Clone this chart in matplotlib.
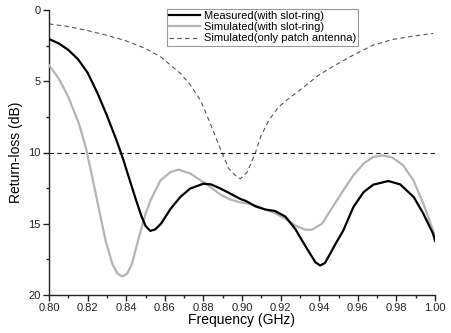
import matplotlib
matplotlib.use("Agg")
import matplotlib.pyplot as plt
from matplotlib.ticker import MultipleLocator, FormatStrFormatter

plt.rcParams['font.family'] = ['Liberation Sans', 'DejaVu Sans']

meas_f = [0.800, 0.805, 0.810, 0.815, 0.820, 0.825, 0.830, 0.835, 0.8385, 0.8415, 0.845, 0.848,
          0.850, 0.8525, 0.855, 0.858, 0.863, 0.868, 0.873, 0.880, 0.884, 0.889, 0.894, 0.899,
          0.902, 0.907, 0.912, 0.917, 0.9225, 0.9275, 0.933, 0.938, 0.9405, 0.943, 0.9457,
          0.9485, 0.9525, 0.9577, 0.963, 0.968, 0.9758, 0.982, 0.989, 0.994, 0.999, 1.000]
meas_rl = [2.04, 2.34, 2.80, 3.45, 4.40, 5.80, 7.40, 9.15, 10.5, 11.8, 13.3, 14.5,
           15.15, 15.5, 15.4, 15.0, 13.95, 13.13, 12.54, 12.19, 12.24, 12.54, 12.89, 13.25,
           13.4, 13.78, 14.0, 14.1, 14.5, 15.35, 16.6, 17.7, 17.93, 17.75, 17.1,
           16.4, 15.47, 13.83, 12.78, 12.26, 12.0, 12.24, 13.13, 14.3, 15.7, 16.2]

sim_f = [0.800, 0.805, 0.810, 0.8155, 0.819, 0.8224, 0.826, 0.8293, 0.8328, 0.8355, 0.838,
         0.8405, 0.843, 0.8466, 0.850, 0.8526, 0.8578, 0.863, 0.8672, 0.8733, 0.8785, 0.8836,
         0.8888, 0.894, 0.899, 0.902, 0.907, 0.912, 0.917, 0.9225, 0.9276, 0.9328, 0.9362,
         0.9414, 0.9466, 0.9525, 0.9577, 0.963, 0.968, 0.973, 0.978, 0.9835, 0.9888, 0.994,
         0.999, 1.000]
sim_rl = [3.87, 4.80, 6.10, 7.97, 9.61, 11.72, 14.06, 16.17, 17.81, 18.5, 18.7,
          18.5, 17.81, 15.94, 14.3, 13.36, 11.95, 11.37, 11.2, 11.48, 11.95, 12.42,
          12.95, 13.3, 13.5, 13.55, 13.71, 14.0, 14.25, 14.65, 15.12, 15.42, 15.42,
          15.0, 13.9, 12.66, 11.6, 10.78, 10.31, 10.2, 10.36, 10.9, 11.95, 13.6,
          15.47, 15.94]

patch_f = [0.800, 0.8086, 0.819, 0.8293, 0.8397, 0.850, 0.8578, 0.8681, 0.8733, 0.8785,
           0.8836, 0.887, 0.8896, 0.8931, 0.8974, 0.8992, 0.9027, 0.9053, 0.907, 0.9096,
           0.9139, 0.919, 0.9242, 0.9311, 0.9397, 0.9483, 0.9577, 0.968, 0.9784, 0.9888, 0.9991]
patch_rl = [0.98, 1.13, 1.41, 1.75, 2.15, 2.70, 3.28, 4.45, 5.27, 6.33,
            7.97, 9.14, 10.0, 11.13, 11.72, 11.84, 11.37, 10.55, 10.0, 8.91,
            7.74, 6.8, 6.21, 5.51, 4.57, 3.87, 3.16, 2.46, 2.06, 1.83, 1.64]

ref_f = [0.80, 1.00]
ref_rl = [10, 10]

labels = ["Measured(with slot-ring)", "Simulated(with slot-ring)", "Simulated(only patch antenna)"]

fig = plt.figure(figsize=(4.51, 3.33), dpi=100)
ax = fig.add_axes([49/451, 1-295/333, (435-49)/451, (295-10)/333])

l1, = ax.plot(meas_f, meas_rl, color='black', lw=1.6, label=labels[0], zorder=4)
l2, = ax.plot(sim_f, sim_rl, color='#b4b4b4', lw=1.6, label=labels[1], zorder=3)
l3, = ax.plot(patch_f, patch_rl, color='#555555', lw=0.8, ls=(0, (4, 3)), label=labels[2], zorder=2)
ax.plot(ref_f, ref_rl, color='#222222', lw=0.8, ls=(0, (4, 3)), zorder=2)

ax.set_xlim(0.80, 1.00)
ax.set_ylim(20, 0)
ax.xaxis.set_major_locator(MultipleLocator(0.02))
ax.xaxis.set_minor_locator(MultipleLocator(0.01))
ax.xaxis.set_major_formatter(FormatStrFormatter('%.2f'))
ax.yaxis.set_major_locator(MultipleLocator(5))
ax.yaxis.set_minor_locator(MultipleLocator(2.5))

for s in ['top', 'right']:
    ax.spines[s].set_visible(False)
for s in ['left', 'bottom']:
    ax.spines[s].set_linewidth(1.0)
    ax.spines[s].set_color('#222222')

ax.tick_params(axis='both', which='major', direction='out', length=4, width=1.0,
               labelsize=8, colors='#222222', pad=2)
ax.tick_params(axis='both', which='minor', direction='out', length=2.5, width=1.0, colors='#222222')

ax.set_xlabel('Frequency (GHz)', fontsize=10, labelpad=0)
ax.set_ylabel('Return-loss (dB)', fontsize=10, labelpad=4)

leg = ax.legend(handles=[l1, l2, l3], loc='upper left',
                bbox_to_anchor=(167/451, 1-9/333), bbox_transform=fig.transFigure,
                fontsize=8, frameon=True, fancybox=False, framealpha=1,
                edgecolor='#999999', handlelength=2.8, handletextpad=0.3,
                borderpad=0.2, labelspacing=0.1, borderaxespad=0)
leg.get_frame().set_linewidth(0.8)

fig.savefig('out.png', dpi=100)
